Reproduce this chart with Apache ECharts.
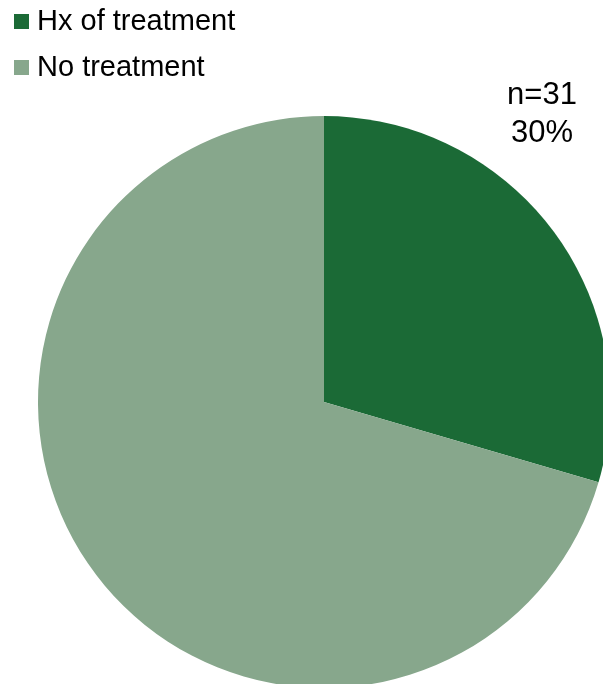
<!DOCTYPE html>
<html>
<head>
<meta charset="utf-8">
<script src="https://cdn.jsdelivr.net/npm/echarts@6/dist/echarts.min.js"></script>
<style>
  html, body { margin: 0; padding: 0; background: #ffffff; }
  #chart { width: 603px; height: 684px; }
</style>
</head>
<body>
<div id="chart"></div>
<script>
// Patient groups and counts
const categories = ['Hx of treatment', 'No treatment'];
const counts = [31, 74];
const colors = ['#1b6a36', '#87a78c'];

const total = counts.reduce((a, b) => a + b, 0);

const chart = echarts.init(document.getElementById('chart'), null, { renderer: 'canvas' });

chart.setOption({
  animation: false,
  backgroundColor: '#ffffff',
  legend: {
    orient: 'vertical',
    left: 14,
    top: 7,
    padding: 0,
    icon: 'rect',
    itemWidth: 15,
    itemHeight: 15,
    itemGap: 17,
    textStyle: { fontFamily: 'Liberation Sans, Arial, sans-serif', fontSize: 29, color: '#000000', padding: [0, 0, 0, 3] },
    data: categories
  },
  series: [{
    type: 'pie',
    center: [324, 402],
    radius: 286,
    startAngle: 90,
    clockwise: true,
    avoidLabelOverlap: false,
    emphasis: { disabled: true },
    labelLine: { show: false },
    label: {
      show: true,
      position: 'outside',
      fontFamily: 'Liberation Sans, Arial, sans-serif',
      fontSize: 31,
      lineHeight: 38,
      color: '#000000',
      align: 'center',
      formatter: p => 'n=' + p.value + '\n' + Math.round(p.value / total * 100) + '%'
    },
    labelLayout: p => p.dataIndex === 0
      ? { x: 542, y: 114, align: 'center', verticalAlign: 'middle' }
      : {},
    data: categories.map((name, i) => ({
      name,
      value: counts[i],
      itemStyle: { color: colors[i] },
      label: { show: i === 0 }
    }))
  }]
});
</script>
</body>
</html>
